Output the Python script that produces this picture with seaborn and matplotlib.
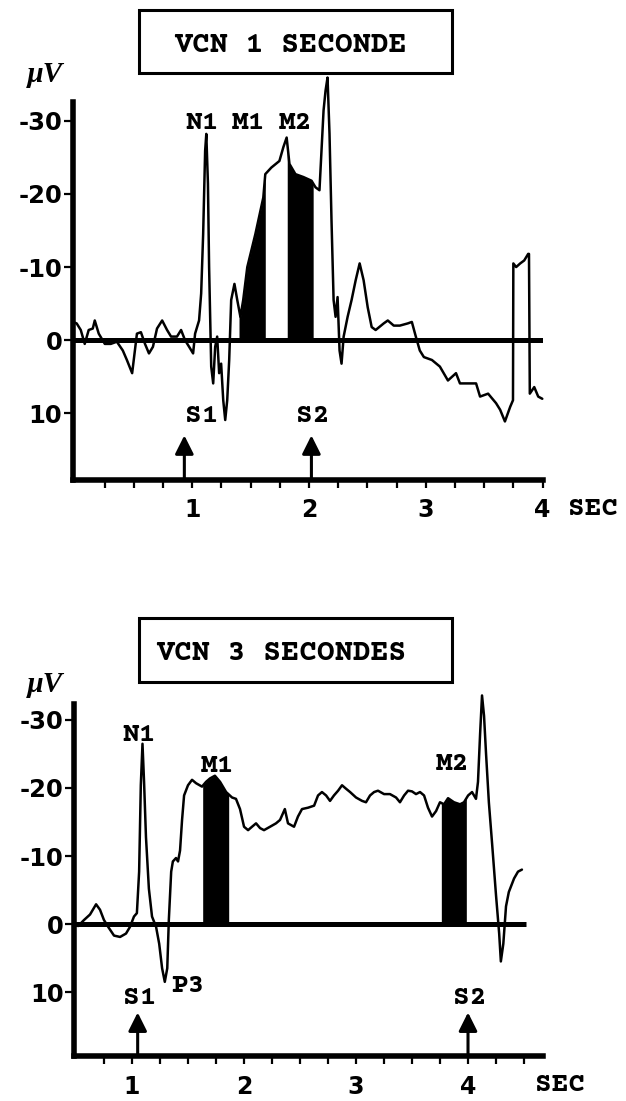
import numpy as np
import pandas as pd
import matplotlib
matplotlib.use("Agg")
import matplotlib.pyplot as plt
import seaborn as sns
from matplotlib.patches import Rectangle

# ---------------- data ----------------
# Panel 1: VCN 1 seconde  (time in s, potential in µV; negative up)
t1 = [-0.024, 0.010, 0.045, 0.079, 0.113, 0.148, 0.165, 0.199, 0.251, 0.302, 0.354, 0.405, 0.440,
      0.485, 0.526, 0.560, 0.595, 0.629, 0.663, 0.698, 0.742, 0.784, 0.818, 0.869, 0.904, 0.938,
      0.973, 1.007, 1.024, 1.058, 1.076, 1.093, 1.110, 1.120, 1.134, 1.144, 1.162, 1.179, 1.196,
      1.213, 1.230, 1.247, 1.265, 1.282, 1.299, 1.316, 1.333, 1.361, 1.385, 1.412, 1.436, 1.471,
      1.540, 1.608, 1.625, 1.677, 1.746, 1.780, 1.808, 1.832, 1.883, 1.952, 2.021, 2.055, 2.089,
      2.124, 2.141, 2.158, 2.175, 2.192, 2.210, 2.227, 2.244, 2.261, 2.278, 2.296, 2.330, 2.364,
      2.399, 2.433, 2.467, 2.502, 2.536, 2.570, 2.639, 2.674, 2.725, 2.777, 2.845, 2.880, 2.914,
      2.948, 2.983, 3.052, 3.120, 3.189, 3.258, 3.292, 3.361, 3.430, 3.464, 3.533, 3.601, 3.636,
      3.677, 3.722, 3.746, 3.749, 3.773, 3.808, 3.842, 3.876, 3.883, 3.890, 3.928, 3.962, 3.997]
v1 = [-2.5, -2.3, -1.4, 0.5, -1.4, -1.6, -2.7, -0.9, 0.5, 0.5, 0.2, 1.4, 2.7,
      4.5, -0.9, -1.1, 0.5, 1.8, 0.9, -1.6, -2.7, -1.4, -0.5, -0.5, -1.4, 0.0,
      0.9, 1.8, -0.9, -2.7, -6.4, -14.5, -25.9, -28.2, -21.4, -10.0, 3.6, 5.9, 0.9,
      -0.5, 4.5, 3.2, 8.2, 10.9, 8.2, 2.7, -5.5, -7.7, -5.5, -3.2, -5.5, -10.0,
      -14.5, -19.5, -22.7, -23.6, -24.5, -26.4, -27.7, -24.1, -22.7, -22.3, -21.8, -20.9, -20.5,
      -31.4, -34.1, -35.9, -28.2, -16.4, -5.5, -3.2, -5.9, 1.4, 3.2, -0.5, -3.2, -5.5,
      -8.2, -10.5, -8.2, -4.5, -1.8, -1.4, -2.3, -2.7, -2.0, -2.0, -2.3, -2.5, -0.5,
      1.4, 2.3, 2.7, 3.6, 5.5, 4.5, 5.9, 5.9, 5.9, 7.7, 7.3, 8.6, 9.5,
      11.1, 9.1, 8.2, -10.5, -10.0, -10.5, -10.9, -11.8, -11.8, 7.3, 6.4, 7.7, 8.0]

# Panel 2: VCN 3 secondes
t2 = [0.521, 0.575, 0.628, 0.682, 0.717, 0.752, 0.789, 0.842, 0.896, 0.949, 0.985, 1.020, 1.046,
      1.066, 1.081, 1.096, 1.110, 1.127, 1.153, 1.181, 1.217, 1.245, 1.271, 1.295, 1.317, 1.331,
      1.352, 1.367, 1.395, 1.413, 1.431, 1.449, 1.467, 1.502, 1.538, 1.574, 1.627, 1.663, 1.698,
      1.742, 1.788, 1.842, 1.895, 1.930, 1.966, 2.002, 2.038, 2.073, 2.109, 2.145, 2.180, 2.234,
      2.287, 2.323, 2.366, 2.394, 2.448, 2.483, 2.519, 2.573, 2.627, 2.662, 2.697, 2.734, 2.769,
      2.804, 2.841, 2.876, 2.911, 2.948, 3.001, 3.055, 3.090, 3.126, 3.162, 3.197, 3.251, 3.304,
      3.358, 3.393, 3.430, 3.465, 3.500, 3.536, 3.572, 3.608, 3.643, 3.679, 3.715, 3.750, 3.786,
      3.822, 3.875, 3.929, 3.964, 4.001, 4.036, 4.071, 4.089, 4.108, 4.125, 4.143, 4.161, 4.186,
      4.215, 4.250, 4.278, 4.293, 4.315, 4.339, 4.364, 4.411, 4.446, 4.481]
v2 = [0.3, -0.6, -1.4, -2.9, -2.1, -0.6, 0.4, 1.7, 1.9, 1.4, 0.4, -1.1, -1.6,
      -7.7, -20.4, -26.5, -20.9, -12.8, -5.2, -1.1, 0.4, 2.9, 6.5, 8.5, 6.5, -0.6,
      -7.7, -9.2, -9.7, -9.2, -10.8, -15.3, -18.9, -20.4, -21.2, -20.7, -20.2, -20.9, -21.4,
      -21.8, -20.9, -19.4, -18.6, -18.4, -16.9, -14.3, -13.8, -14.3, -14.8, -14.1, -13.8, -14.3,
      -14.8, -15.3, -16.9, -14.8, -14.3, -15.8, -16.9, -17.1, -17.4, -18.9, -19.4, -18.9, -18.1,
      -18.9, -19.6, -20.4, -19.9, -19.4, -18.6, -18.1, -17.9, -18.9, -19.4, -19.6, -19.1, -19.1,
      -18.6, -17.9, -18.9, -19.6, -19.5, -19.1, -19.4, -18.9, -17.1, -15.8, -16.6, -17.9, -17.6,
      -18.5, -17.9, -17.6, -17.9, -18.9, -19.4, -18.4, -20.9, -28.0, -33.6, -30.6, -25.0, -17.9,
      -11.8, -4.2, 1.4, 5.5, 2.9, -2.6, -4.7, -6.7, -7.7, -8.0]

# shaded measurement windows (s)
m_windows1 = [(1.40, 1.625), (1.813, 2.035)]
m_windows2 = [(1.633, 1.865), (3.762, 3.985)]

# stimulus times (s) and arrow tip (µV)
stim1 = [0.932, 2.02]
stim2 = [1.053, 4.00]
arrow_tip = 13.0

# peak labels: (text, t, v)
labels1 = [("N1", 1.08, -30.1), ("M1", 1.48, -30.1), ("M2", 1.88, -30.1),
           ("S1", 1.08, 10.0), ("S2", 2.03, 10.0)]
labels2 = [("N1", 1.068, -28.3), ("M1", 1.764, -23.6), ("M2", 3.866, -24.0),
           ("P3", 1.50, 8.6), ("S1", 1.068, 10.4), ("S2", 4.015, 10.4)]

titles = ["VCN 1 SECONDE", "VCN 3 SECONDES"]
ytick_vals = [-30, -20, -10, 0, 10]
ytick_labels = ["-30", "-20", "-10", "0", "10"]
xtick_vals = [1, 2, 3, 4]
xtick_labels = ["1", "2", "3", "4"]
xminor1 = [0.25 * k for k in range(1, 17)]
xminor2 = [0.25 * k for k in range(3, 19)]

# ---------------- figure ----------------
sns.set_style("ticks")
plt.rcParams['font.family'] = ['Courier Prime', 'Liberation Mono', 'DejaVu Sans']

SLAB = "Courier Prime"
SANS = "DejaVu Sans"

W, H = 626, 1101
fig = plt.figure(figsize=(W / 100, H / 100), dpi=100)


def rect(l, t, r, b):
    return [l / W, 1 - b / H, (r - l) / W, (b - t) / H]


def panel(box, xlim, ylim, t, v, windows, stims, labels, xminor, base_end, xpad,
          title, tbox, tx, ty, muy, secx, secy):
    ax = fig.add_axes(rect(*box))
    df = pd.DataFrame({"t": t, "v": v})
    ax.hlines(0, xlim[0], base_end, color="black", lw=3.6, zorder=2)
    sns.lineplot(data=df, x="t", y="v", ax=ax, color="black", lw=1.8,
                 sort=False, estimator=None, clip_on=False, zorder=3)
    ta, va = np.asarray(t), np.asarray(v)
    for a, b in windows:
        g = np.linspace(a, b, 300)
        ax.fill_between(g, 0, np.interp(g, ta, va), color="black", lw=0, zorder=2)
    ax.set_xlim(*xlim)
    ax.set_ylim(*ylim)
    ax.set_xlabel("")
    ax.set_ylabel("")
    for s in ["top", "right"]:
        ax.spines[s].set_visible(False)
    for s in ["left", "bottom"]:
        ax.spines[s].set_linewidth(4)
        ax.spines[s].set_color("black")
        ax.spines[s].set_capstyle("projecting")
    ax.set_yticks(ytick_vals)
    ax.set_yticklabels(ytick_labels)
    ax.set_xticks(xtick_vals)
    ax.set_xticklabels(xtick_labels)
    ax.set_xticks(xminor, minor=True)
    ax.tick_params(axis="y", which="both", left=True, direction="out", length=6.5,
                   width=1.6, pad=1, labelsize=17.5, colors="black")
    ax.tick_params(axis="x", which="both", bottom=True, direction="out", length=6,
                   width=1.6, pad=xpad, labelsize=17, colors="black")
    for lab in ax.get_xticklabels() + ax.get_yticklabels():
        lab.set_fontweight("bold")
        lab.set_family(SANS)
    for st in stims:
        ax.annotate("", xy=(st, arrow_tip), xytext=(st, ylim[0]),
                    arrowprops=dict(arrowstyle="-|>", color="black", lw=2.2,
                                    mutation_scale=28, shrinkA=0, shrinkB=0),
                    annotation_clip=False, zorder=4)
    for txt, lt, lv in labels:
        ax.text(lt, lv, txt, ha="center", va="center_baseline", fontsize=20,
                fontweight="bold", family=SLAB, color="black", zorder=5)
    # title box
    l, tp, r, bt = tbox
    fig.add_artist(Rectangle((l / W, 1 - bt / H), (r - l) / W, (bt - tp) / H,
                             transform=fig.transFigure, fill=False,
                             edgecolor="black", lw=2.2))
    fig.text(tx / W, 1 - ty / H, title, ha="center", va="center_baseline", fontsize=21.5,
             fontweight="bold", family=SLAB, color="black")
    fig.text(45 / W, 1 - muy / H, "µV", ha="center", va="center", fontsize=21,
             fontweight="bold", fontstyle="italic", family="Liberation Serif",
             color="black")
    fig.text(secx / W, 1 - secy / H, "SEC", ha="center", va="center_baseline", fontsize=20,
             fontweight="bold", family=SLAB, color="black")
    return ax


panel((72.7, 101.7, 543, 480), (-0.024, 4.003), (19.1, -32.6), t1, v1, m_windows1, stim1,
      labels1, xminor1, 4.003, 7, titles[0], (139.3, 10, 452.3, 72.7), 290.5, 43, 75,
      593, 506)
panel((74, 704.3, 543, 1056), (0.485, 4.669), (19.4, -32.3), t2, v2, m_windows2, stim2,
      labels2, xminor2, 4.52, 7.5, titles[1], (139.3, 618, 452.3, 682), 281, 650, 685,
      560, 1082)

fig.savefig("out.png", dpi=100, facecolor="white")
